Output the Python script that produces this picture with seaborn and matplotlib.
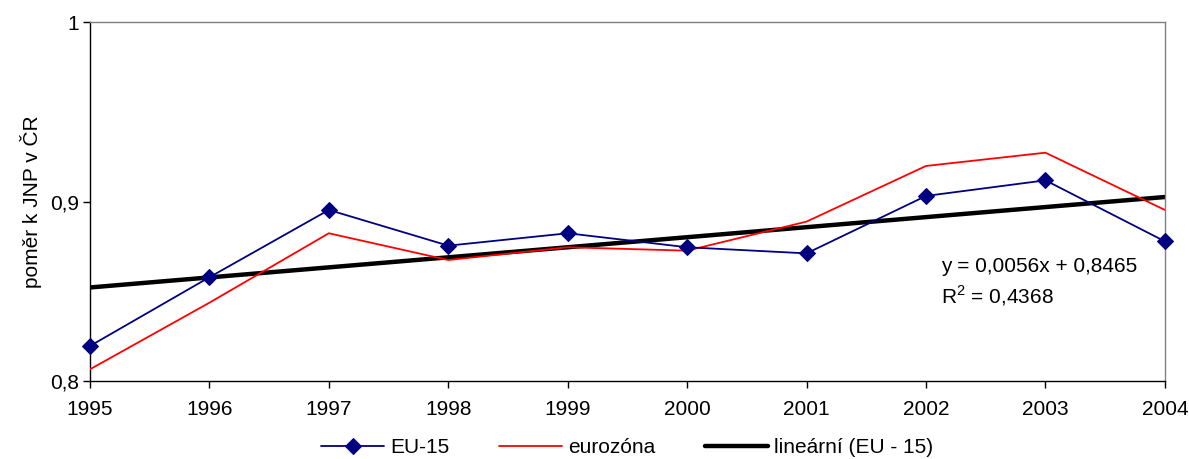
import numpy as np
import pandas as pd
import matplotlib
matplotlib.use('Agg')
import matplotlib.pyplot as plt
import seaborn as sns

# Data
roky = [1995, 1996, 1997, 1998, 1999, 2000, 2001, 2002, 2003, 2004]
eu15 = [0.8195, 0.8578, 0.8953, 0.8754, 0.8823, 0.8745, 0.8711, 0.9031, 0.9118, 0.8778]
eurozona = [0.8065, 0.8436, 0.8823, 0.8674, 0.8745, 0.8726, 0.8888, 0.9198, 0.9272, 0.8953]
trend_k = 0.0056
trend_q = 0.8465
rovnice = 'y = 0,0056x + 0,8465'
r2_text = 'R$^2$ = 0,4368'

df = pd.DataFrame({'rok': roky, 'EU-15': eu15, 'eurozóna': eurozona})
df['trend'] = trend_k * np.arange(1, len(roky) + 1) + trend_q

sns.set_style('white')
plt.rcParams['font.family'] = ['Liberation Sans', 'DejaVu Sans']
plt.rcParams['text.color'] = 'black'
plt.rcParams['axes.labelcolor'] = 'black'
plt.rcParams['xtick.color'] = 'black'
plt.rcParams['ytick.color'] = 'black'
plt.rcParams['mathtext.fontset'] = 'custom'
plt.rcParams['mathtext.rm'] = 'Liberation Sans'

fs = 15

fig = plt.figure(figsize=(11.89, 4.59), dpi=100)
ax = fig.add_axes([0.0757, 0.170, 0.904, 0.782])

sns.lineplot(data=df, x='rok', y='EU-15', ax=ax, color='#000080', linewidth=1.3,
             marker='D', markersize=8, markeredgecolor='#000080', label='EU-15',
             clip_on=False, zorder=4)
sns.lineplot(data=df, x='rok', y='eurozóna', ax=ax, color='#FF0000', linewidth=1.3,
             label='eurozóna', zorder=3)
sns.lineplot(data=df, x='rok', y='trend', ax=ax, color='black', linewidth=3.2,
             label='lineární (EU - 15)', zorder=2)

ax.set_xlim(roky[0], roky[-1])
ax.set_ylim(0.8, 1.0)
ax.set_xticks(roky)
ax.set_xticklabels([str(r) for r in roky], fontsize=fs)
ax.set_yticks([0.8, 0.9, 1.0])
ax.set_yticklabels(['0,8', '0,9', '1'], fontsize=fs)
ax.tick_params(axis='both', direction='out', length=5, width=1, color='black',
               left=True, bottom=True)
ax.tick_params(axis='x', pad=9)
ax.tick_params(axis='y', pad=3)
ax.set_xlabel('')
ax.set_ylabel('poměr k JNP v ČR', fontsize=fs, labelpad=6)

ax.spines['left'].set_color('black')
ax.spines['bottom'].set_color('black')
ax.spines['top'].set_color('#808080')
ax.spines['right'].set_color('#808080')
for s in ax.spines.values():
    s.set_linewidth(1)

ax.text(0.792, 0.318, rovnice, transform=ax.transAxes, fontsize=fs, va='center')
ax.text(0.792, 0.237, r2_text, transform=ax.transAxes, fontsize=fs, va='center')

ax.legend(loc='center', bbox_to_anchor=(0.5, -0.185), ncol=3, frameon=False,
          fontsize=fs, handlelength=3.0, columnspacing=2.4, handletextpad=0.3)

fig.savefig('out.png', dpi=100)
